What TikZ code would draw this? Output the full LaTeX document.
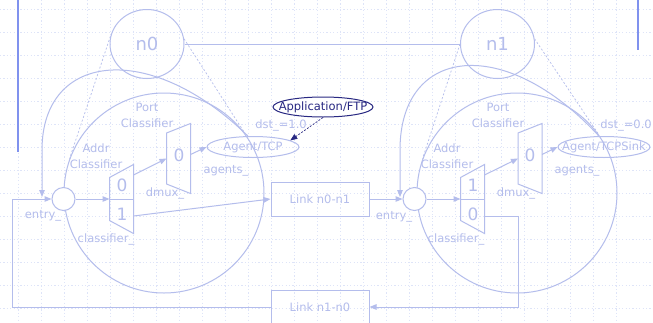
\documentclass[tikz,border=0pt]{standalone}
\usepackage{fontspec}
\setmainfont{DejaVu Sans}
\usetikzlibrary{positioning,arrows.meta,shapes.geometric,calc}
\definecolor{nsline}{RGB}{180,189,236}
\definecolor{nsgrid}{RGB}{222,228,248}
\definecolor{nsbar}{RGB}{128,146,238}
\definecolor{nsnavy}{RGB}{40,40,130}

\begin{document}
\begin{tikzpicture}[
  x=1pt, y=-1pt,
  >={Triangle[length=7pt,width=5.5pt]},
  color=nsline, line width=1pt,
  font=\fontsize{11.5}{16}\selectfont,
  gridline/.style={nsgrid, line width=0.8pt, dash pattern=on 1.2pt off 2.2pt},
  sidebar/.style ={nsbar, line width=2pt},
  host/.style    ={ellipse, draw, minimum width=74, minimum height=69, inner sep=0pt,
                   font=\fontsize{18}{20}\selectfont},
  zoomed/.style  ={circle, draw, minimum size=200, inner sep=0pt},
  entrypt/.style ={circle, draw, fill=white, minimum size=23, inner sep=0pt},
  muxbox/.style  ={minimum width=23, inner sep=0pt},
  agent/.style   ={ellipse, draw, minimum width=92, minimum height=21, inner sep=0pt},
  appl/.style    ={ellipse, draw=nsnavy, text=nsnavy, fill=white, line width=1pt,
                   minimum width=100, minimum height=20, inner sep=0pt},
  link/.style    ={draw, minimum width=98, minimum height=34, inner sep=0pt},
  port/.style    ={inner sep=0pt, font=\fontsize{17}{18}\selectfont},
  lbl/.style     ={align=center, inner sep=0pt},
  zoomline/.style={line width=0.7pt, dash pattern=on 2pt off 2pt},
  arr/.style     ={->}
]
\useasboundingbox (0,0) rectangle (653,322);
\fill[white] (0,0) rectangle (653,322);

% --- background grid and side bars ---
\foreach \gx in {18,41,...,638} \draw[gridline] (\gx,0) -- (\gx,322);
\foreach \gy in {9,32,...,308} \draw[gridline] (0,\gy) -- (653,\gy);
\draw[sidebar] (18,0) -- (18,152);
\draw[sidebar] (638,0) -- (638,50);

% --- the two hosts and their blown-up views ---
\node[host]   (n0)    at (147,44)  {n0};
\node[host]   (n1)    at (497.5,44) {n1};
\node[zoomed] (zoom0) at (164,193) {};
\node[zoomed] (zoom1) at (517,193) {};

\draw (n0.east) -- (n1.west);
\draw[zoomline] (n0.168) -- (zoom0.160);
\draw[zoomline] (n0.8)   -- (zoom0.36);
\draw[zoomline] (n1.west) -- (zoom1.160);
\draw[zoomline] (n1.8)   -- (zoom1.36);

% --- node n0 internals ---
\node[entrypt]                  (entry0) at (63.5,199) {};
\node[muxbox, minimum height=68] (addr0) at (121.5,199) {};
\node[muxbox, minimum height=69] (dmux0) at (178.5,158.5) {};
\node[agent] (tcp) at (253,147) {\makebox[0pt]{Agent/TCP}};

\draw (addr0.north east) -- (addr0.south east)
      -- ($(addr0.south west)+(0,-13)$) -- ($(addr0.north west)+(0,13)$) -- cycle;
\draw (addr0.west) -- (addr0.east);
\draw (dmux0.north east) -- (dmux0.south east)
      -- ($(dmux0.south west)+(0,-9.5)$) -- ($(dmux0.north west)+(0,9.5)$) -- cycle;
\node[port] (a0p0) at (122,185) {0};
\node[port] (a0p1) at (122,214) {1};
\node[port] (d0p0) at (179,155) {0};

\coordinate (a0out0) at ($(addr0.east)+(0,-24)$);
\coordinate (a0out1) at ($(addr0.east)+(0,17)$);
\coordinate (drop0)  at (42,197);

% --- node n1 internals ---
\node[entrypt]                  (entry1) at (414.5,199) {};
\node[muxbox, minimum height=68] (addr1) at (472.5,199) {};
\node[muxbox, minimum height=69] (dmux1) at (530,158.5) {};
\node[agent] (sink) at (604,147) {\makebox[0pt]{Agent/TCPSink}};

\draw (addr1.north east) -- (addr1.south east)
      -- ($(addr1.south west)+(0,-13)$) -- ($(addr1.north west)+(0,13)$) -- cycle;
\draw (addr1.west) -- (addr1.east);
\draw (dmux1.north east) -- (dmux1.south east)
      -- ($(dmux1.south west)+(0,-9.5)$) -- ($(dmux1.north west)+(0,9.5)$) -- cycle;
\node[port] (a1p1) at (473,185) {1};
\node[port] (a1p0) at (473,214) {0};
\node[port] (d1p0) at (530,155) {0};

\coordinate (a1out1) at ($(addr1.east)+(0,-24)$);
\coordinate (a1out0) at ($(addr1.east)+(0,17)$);
\coordinate (drop1)  at (400,197);

% --- links and application ---
\node[link] (link01) at (320,199) {Link n0-n1};
\node[link] (link10) at (320,307) {Link n1-n0};
\node[appl] (ftp)    at (323,107) {\makebox[0pt]{Application/FTP}};

% --- labels ---
\node[lbl] (addrlbl0)  at (96,156)  {Addr\\Classifier};
\node[lbl] (portlbl0)  at (147,115) {Port\\Classifier};
\node[lbl] (entrylbl0) at (43,216)  {entry\_};
\node[lbl] (clslbl0)   at (106,239) {classifier\_};
\node[lbl] (dmuxlbl0)  at (165,193) {dmux\_};
\node[lbl] (agentlbl0) at (226,171) {agents\_};
\node[lbl] (dstlbl0)   at (281,125) {dst\_=1.0};

\node[lbl] (addrlbl1)  at (447,156) {Addr\\Classifier};
\node[lbl] (portlbl1)  at (498,115) {Port\\Classifier};
\node[lbl] (entrylbl1) at (394,217) {entry\_};
\node[lbl] (clslbl1)   at (456,239) {classifier\_};
\node[lbl] (dmuxlbl1)  at (516,193) {dmux\_};
\node[lbl] (agentlbl1) at (577,171) {agents\_};
\node[lbl] (dstlbl1)   at (626,125) {dst\_=0.0};

% --- packet path inside n0 ---
\draw[arr] (entry0.east) -- (addr0.west);
\draw[arr] (a0out0) -- (dmux0.west);
\draw[arr] ($(dmux0.east)+(0,-4)$) -- (tcp.west);
\draw[arr] (a0out1) -- (link01.west);
\draw[arr] (tcp.115) .. controls (150,40) and (42,52) .. (42,150) -- (drop0);

% --- packet path inside n1 ---
\draw[arr] (link01.east) -- (entry1.west);
\draw[arr] (entry1.east) -- (addr1.west);
\draw[arr] (a1out1) -- (dmux1.west);
\draw[arr] ($(dmux1.east)+(0,-4)$) -- (sink.west);
\draw[arr] (sink.115) .. controls (505,34) and (400,46) .. (400,150) -- (drop1);

% --- return link back to n0 ---
\coordinate (turn1) at (518,307);
\coordinate (turn0) at (12,307);
\draw[arr] (a1out0) -| (turn1) -- (link10.east);
\draw[arr] (link10.west) -- (turn0) |- (entry0.west);

% --- application attached to the TCP agent ---
\draw[arr, nsnavy, line width=0.7pt, dash pattern=on 2pt off 1.5pt] (ftp.south) -- (tcp.10);

\end{tikzpicture}
\end{document}
